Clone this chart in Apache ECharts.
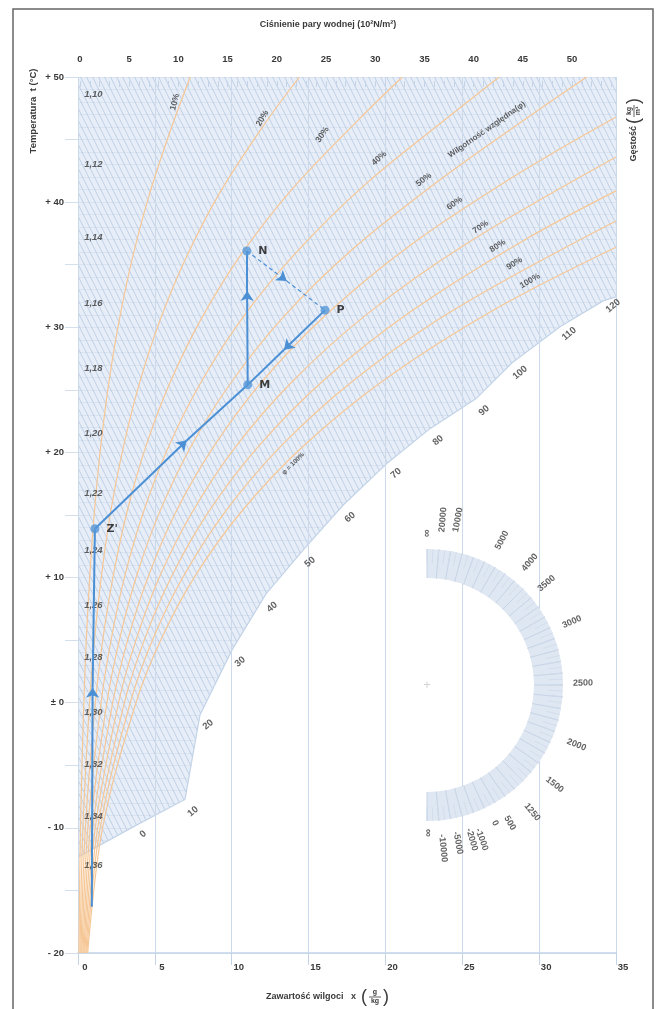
<!DOCTYPE html>
<html><head><meta charset="utf-8">
<script src="https://cdn.jsdelivr.net/npm/echarts@6/dist/echarts.min.js"></script>
<style>html,body{margin:0;padding:0;background:#fff}#c{width:656px;height:1009px}</style>
</head><body><div id="c"></div>
<script>
// ---------------- DATA ----------------
const moistureTicks = [0, 5, 10, 15, 20, 25, 30, 35];          // g/kg
const pressureTicks = [0, 5, 10, 15, 20, 25, 30, 35, 40, 45, 50]; // 10^2 N/m^2
const tempTicks = [-20, -10, 0, 10, 20, 30, 40, 50];           // °C

const rhLevels = ['10%', '20%', '30%', '40%', '50%', '60%', '70%', '80%', '90%', '100%'];
const rhCurveX = [
  [0.06, 0.16, 0.38, 0.54, 0.76, 1.05, 1.44, 1.95, 2.62, 3.48, 4.57, 5.95, 7.3],
  [0.13, 0.32, 0.75, 1.07, 1.51, 2.10, 2.89, 3.92, 5.26, 6.99, 9.20, 12.0, 14.4],
  [0.19, 0.48, 1.13, 1.61, 2.27, 3.16, 4.34, 5.89, 7.92, 10.55, 13.9, 18.18, 21.1],
  [0.25, 0.64, 1.50, 2.15, 3.03, 4.22, 5.80, 7.88, 10.61, 14.14, 18.67, 24.3, 27.4],
  [0.32, 0.80, 1.88, 2.69, 3.79, 5.28, 7.27, 9.88, 13.31, 17.78, 23.51, 30.0, 33.1],
  [0.38, 0.96, 2.26, 3.23, 4.56, 6.35, 8.74, 11.9, 16.05, 21.45, 28.43, 35.0],
  [0.44, 1.12, 2.64, 3.77, 5.32, 7.42, 10.22, 13.93, 18.8, 25.17, 35.0],
  [0.51, 1.28, 3.02, 4.31, 6.09, 8.49, 11.71, 15.97, 21.58, 28.94, 35.0],
  [0.57, 1.44, 3.40, 4.86, 6.86, 9.57, 13.2, 18.02, 24.38, 35.0],
  [0.63, 1.60, 3.77, 5.40, 7.63, 10.65, 14.7, 20.09, 27.21, 35.0]
];
const rhCurveY = [
  [-20, -10, 0, 5, 10, 15, 20.05, 25.1, 30.15, 35.2, 40.3, 45.5, 50],
  [-20, -10, 0, 5, 10, 15.1, 20.1, 25.2, 30.3, 35.45, 40.7, 46.0, 50],
  [-20, -10, 0, 5, 10, 15.1, 20.2, 25.3, 30.45, 35.7, 41.0, 46.5, 50],
  [-20, -10, 0, 5, 10.05, 15.1, 20.2, 25.35, 30.6, 35.9, 41.4, 47.0, 50],
  [-20, -10, 0, 5, 10.05, 15.15, 20.3, 25.45, 30.75, 36.15, 41.75, 47.4, 50],
  [-20, -10, 0, 5, 10.05, 15.2, 20.3, 25.55, 30.9, 36.4, 42.1, 46.8],
  [-20, -10, 0, 5, 10.1, 15.2, 20.4, 25.65, 31.05, 36.6, 43.6],
  [-20, -10, 0, 5, 10.1, 15.25, 20.45, 25.75, 31.2, 36.9, 40.9],
  [-20, -10, 0, 5.05, 10.1, 15.25, 20.5, 25.85, 31.35, 38.5],
  [-20, -10, 0, 5.05, 10.15, 15.3, 20.55, 25.95, 31.5, 36.4]
];
const rhLabelX = [6.3, 12.0, 15.9, 19.6, 22.5, 24.5, 26.2, 27.3, 28.4, 29.4];
const rhLabelY = [48.0, 46.7, 45.4, 43.5, 41.8, 39.9, 38.0, 36.5, 35.1, 33.7];
const rhLabelRot = [75, 60, 55, 42, 38, 35, 33, 33, 32, 30];

const densityLabels = ['1,10', '1,12', '1,14', '1,16', '1,18', '1,20', '1,22', '1,24', '1,26', '1,28', '1,30', '1,32', '1,34', '1,36'];
const densityY = [48.6, 43.0, 37.2, 31.9, 26.7, 21.5, 16.7, 12.2, 7.8, 3.6, -0.8, -4.9, -9.1, -13.0];
const densityX = 1.0;

const enthalpyValues = [0, 10, 20, 30, 40, 50, 60, 70, 80, 90, 100, 110, 120];
const enthalpyLabelX = [4.23, 7.48, 8.46, 10.54, 12.62, 15.09, 17.7, 20.69, 23.42, 26.42, 28.76, 31.95, 34.81];
const enthalpyLabelY = [-10.5, -8.7, -1.75, 3.27, 7.65, 11.24, 14.82, 18.33, 20.96, 23.35, 26.37, 29.48, 31.71];

// lower end of the enthalpy hatching (staircase edge), right to left
const stairX = [35, 34.16, 31.36, 28.24, 25.9, 22.9, 20.17, 17.24, 14.64, 12.23, 10.02, 7.94, 6.96, 3.77, 0];
const stairY = [32.43, 32.11, 30.04, 27.17, 24.3, 21.9, 19.2, 15.78, 12.19, 8.69, 4.22, -0.96, -7.73, -9.8, -12.35];

// process
const pointNames = ["Z'", 'M', 'N', 'P'];
const pointX = [1.1, 11.04, 10.98, 16.07];
const pointY = [13.9, 25.4, 36.1, 31.37];
const startX = 0.9, startY = -16.3;
// segments: [fromIndex(-1 = start), toIndex, arrowX, arrowY, dashed]
const segments = [
  [-1, 0, 0.95, 1.2, false],
  [0, 1, 7.07, 20.96, false],
  [1, 2, 11.0, 32.9, false],
  [2, 3, 13.58, 33.7, true],
  [3, 1, 13.4, 28.2, false]
];

// edge-scale (protractor) labels
const epsLabels = ['∞', '20000', '10000', '5000', '4000', '3500', '3000', '2500', '2000', '1500', '1250', '500', '0', '-1000', '-2000', '-5000', '-10000', '∞'];
const epsAngle = [90, 84.5, 79.4, 62.6, 50, 40.4, 23.5, 0.7, -21.8, -38, -50.4, -59, -63.8, -70.5, -73.8, -78.9, -84.4, -89.6];
const epsRadius = [152, 166, 168, 163, 160, 157, 158, 156, 161, 162, 165, 161, 154, 164, 161, 161, 164, 148];

// ---------------- CHART ----------------
const FONT = '"Liberation Sans", Arial, Helvetica, sans-serif';
const INK = '#3a3a3a';
const chart = echarts.init(document.getElementById('c'));

// hatch pattern for enthalpy lines
const pc = document.createElement('canvas');
pc.width = 6; pc.height = 12;
const g = pc.getContext('2d');
g.strokeStyle = 'rgba(135,168,210,0.42)';
g.lineWidth = 1;
[-6, 0, 6].forEach(function (ox) { g.beginPath(); g.moveTo(ox, 0); g.lineTo(ox + 6, 12); g.stroke(); });
const hatchPattern = { image: pc, repeat: 'repeat' };

const X0 = 0, X1 = 35, Y0 = -20, Y1 = 50;
const hatchX = [X0, X1].concat(stairX);
const hatchY = [Y1, Y1].concat(stairY);
const maskX = stairX.concat([X0, X1]);
const maskY = stairY.concat([Y0, Y0]);

function polySeries(xs, ys, style, z, open) {
  return {
    type: 'custom', xAxisIndex: 0, yAxisIndex: 0, z: z, silent: true, clip: true,
    data: xs.map(function (x, i) { return [x, ys[i]]; }),
    renderItem: function (params, api) {
      if (params.dataIndex !== 0) return null;
      const pts = xs.map(function (x, i) { return api.coord([x, ys[i]]); });
      return { type: open ? 'polyline' : 'polygon', shape: { points: pts }, style: style };
    }
  };
}

const series = [];
series.push(polySeries(hatchX, hatchY, { fill: '#e7eef7' }, 1));
series.push(polySeries(maskX, maskY, { fill: '#ffffff' }, 3));
series.push(polySeries(hatchX, hatchY, { fill: hatchPattern }, 4));
series.push(polySeries(stairX, stairY, { fill: null, stroke: '#c2d3e8', lineWidth: 1.2 }, 4, true));

rhLevels.forEach(function (lv, k) {
  series.push({
    type: 'line', name: lv, xAxisIndex: 0, yAxisIndex: 0, z: 6, smooth: 0.35, symbol: 'none',
    lineStyle: { color: '#f6c796', width: 1.2 },
    data: rhCurveX[k].map(function (x, i) { return [x, rhCurveY[k][i]]; })
  });
});

function textScatter(data, opts, z) {
  return {
    type: 'scatter', xAxisIndex: 0, yAxisIndex: 0, z: z || 7, symbolSize: 0, silent: true,
    label: Object.assign({ show: true, position: 'inside', formatter: function (p) { return p.name; }, fontFamily: FONT, color: INK }, opts),
    data: data
  };
}
series.push(textScatter(rhLevels.map(function (lv, i) {
  return { name: lv, value: [rhLabelX[i], rhLabelY[i]], label: { rotate: rhLabelRot[i] } };
}), { fontSize: 8.5, fontWeight: 'bold' }));
series.push(textScatter([{ name: 'Wilgotność względna(φ)', value: [26.6, 45.8], label: { rotate: 35 } },
                         { name: 'φ = 100%', value: [14.0, 19.1], label: { rotate: 45, fontSize: 6.5 } }],
  { fontSize: 8, fontWeight: 'bold' }));
series.push(textScatter(densityLabels.map(function (d, i) {
  return { name: d, value: [densityX, densityY[i]] };
}), { fontSize: 9.5, fontStyle: 'italic', fontWeight: 'bold' }));
series.push(textScatter(enthalpyValues.map(function (v, i) {
  return { name: String(v), value: [enthalpyLabelX[i], enthalpyLabelY[i]], label: { rotate: 40 } };
}), { fontSize: 9.5, fontWeight: 'bold' }));

// process lines
function pt(i) { return i < 0 ? [startX, startY] : [pointX[i], pointY[i]]; }
const solidArrow = [], solidPlain = [], dashArrow = [], dashPlain = [];
segments.forEach(function (s) {
  const a = pt(s[0]), b = pt(s[1]), m = [s[2], s[3]];
  (s[4] ? dashArrow : solidArrow).push({ coords: [a, m] });
  (s[4] ? dashPlain : solidPlain).push({ coords: [m, b] });
});
const BLUE = '#4b8fd5';
function linesSeries(data, arrow, dashed) {
  return {
    type: 'lines', coordinateSystem: 'cartesian2d', xAxisIndex: 0, yAxisIndex: 0, z: 8, silent: true,
    symbol: arrow ? ['none', 'arrow'] : ['none', 'none'], symbolSize: 10,
    lineStyle: { color: BLUE, width: dashed ? 1.2 : 2, type: dashed ? [4, 3] : 'solid', opacity: 1 },
    data: data
  };
}
series.push(linesSeries(solidArrow, true, false));
series.push(linesSeries(solidPlain, false, false));
series.push(linesSeries(dashArrow, true, true));
series.push(linesSeries(dashPlain, false, true));
series.push({
  type: 'scatter', xAxisIndex: 0, yAxisIndex: 0, z: 9, symbolSize: 9, silent: true,
  itemStyle: { color: '#5597d8' },
  label: { show: true, position: 'right', distance: 7, formatter: function (p) { return p.name; },
           fontFamily: 'Arial Black, "DejaVu Sans", sans-serif', fontWeight: 'bold', fontSize: 11, color: '#111' },
  data: pointNames.map(function (n, i) { return { name: n, value: [pointX[i], pointY[i]] }; })
});

// protractor band
series.push({
  type: 'gauge', z: 6, center: [427, 685], radius: 136, startAngle: 90, endAngle: -90, min: 0, max: 180,
  splitNumber: 36, silent: true,
  axisLine: { lineStyle: { width: 29, color: [[1, '#dfe7f2']] } },
  splitLine: { distance: -29, length: 29, lineStyle: { color: '#c6d4e6', width: 1 } },
  axisTick: { distance: -29, length: 14, splitNumber: 2, lineStyle: { color: '#cfdbea', width: 0.8 } },
  axisLabel: { show: false }, pointer: { show: false }, anchor: { show: false },
  title: { show: false }, detail: { show: false }, data: [{ value: 0 }]
});
series.push({
  type: 'scatter', coordinateSystem: 'polar', z: 7, symbolSize: 0, silent: true,
  label: { show: true, position: 'inside', formatter: function (p) { return p.name; },
           fontFamily: FONT, fontSize: 9, fontWeight: 'bold', color: INK },
  data: epsLabels.map(function (t, i) {
    const a = epsAngle[i];
    return { name: t, value: [epsRadius[i], a < 0 ? a + 360 : a], label: { rotate: a, fontSize: t === '∞' ? 11 : 9 } };
  }).concat([{ name: '+', value: [0, 0], label: { rotate: 0, color: '#c8c8c8', fontSize: 13, fontWeight: 'normal' } }])
});

// ---------------- graphic texts ----------------
function fnt(size, style) { return (style || 'bold') + ' ' + size + 'px ' + FONT; }
function txt(x, y, s, font, align, valign, extra) {
  return Object.assign({ type: 'text', x: x, y: y, silent: true,
    style: { text: s, font: font, fill: INK, align: align || 'center', verticalAlign: valign || 'middle',
             textAlign: align || 'center', textVerticalAlign: valign || 'middle' } }, extra || {});
}
function frac(cx, cy, num, den, size, w, style) {
  return [
    txt(cx, cy - 1, num, fnt(size, style), 'center', 'bottom'),
    { type: 'line', silent: true, shape: { x1: cx - w / 2, y1: cy, x2: cx + w / 2, y2: cy }, style: { stroke: INK, lineWidth: 0.8 } },
    txt(cx, cy + 1, den, fnt(size, style), 'center', 'top')
  ];
}
const gfx = [];
gfx.push({ type: 'polyline', silent: true, z: 100, shape: { points: [[13, 1015], [13, 9], [653, 9], [653, 1015]] },
           style: { stroke: '#666', lineWidth: 1.5, fill: null } });
gfx.push(txt(328, 25, 'Ciśnienie pary wodnej (10²N/m²)', fnt(9)));
gfx.push({ type: 'group', x: 33, y: 111, rotation: Math.PI / 2, children: [txt(0, 0, 'Temperatura  t (°C)', fnt(9.5))] });
gfx.push({ type: 'group', x: 634, y: 117, rotation: Math.PI / 2, children: [
  txt(-9, 0, 'Gęstość', fnt(9), 'right'),
  txt(-4, 0, '(', fnt(18, 'normal')),
  ].concat(frac(6, 0, 'kg', 'm³', 7, 12)).concat([txt(16, 0, ')', fnt(18, 'normal'))]) });
// bottom axis title
gfx.push(txt(356, 997, 'Zawartość wilgoci   x', fnt(9), 'right'));
gfx.push(txt(364, 997, '(', fnt(18, 'normal')));
frac(375, 997, 'g', 'kg', 7, 12).forEach(function (e) { gfx.push(e); });
gfx.push(txt(386, 997, ')', fnt(18, 'normal')));
// enthalpy caption
gfx.push(txt(352, 634, 'Entalpia  i', fnt(11, 'italic'), 'right'));
gfx.push(txt(363, 634, '(', fnt(26, 'normal')));
frac(378, 634, 'kJ', 'kg', 9, 16, 'italic bold').forEach(function (e) { gfx.push(e); });
gfx.push(txt(393, 634, ')', fnt(26, 'normal')));
// epsilon formula
gfx.push(txt(535, 531, 'ε =', fnt(10, 'normal')));
frac(551, 531, 'Δi', 'Δx', 7, 11).forEach(function (e) { gfx.push(e); });
gfx.push(txt(563, 531, '(', fnt(22, 'normal')));
frac(579, 531, 'kJ', 'kg', 8, 14).forEach(function (e) { gfx.push(e); });
gfx.push(txt(595, 531, ')', fnt(22, 'normal')));

const axisLblStyle = { fontFamily: FONT, fontSize: 9.5, fontWeight: 'bold', color: INK };
const option = {
  animation: false,
  backgroundColor: '#ffffff',
  grid: [
    { left: 78, top: 77, width: 538, height: 876, outerBoundsMode: 'none' },
    { left: 80, top: 77, width: 531.4, height: 10, outerBoundsMode: 'none' }
  ],
  polar: { center: [427, 685], radius: 200 },
  angleAxis: { type: 'value', min: 0, max: 360, startAngle: 0, clockwise: false, show: false },
  radiusAxis: { type: 'value', min: 0, max: 200, show: false },
  xAxis: [
    { gridIndex: 0, type: 'value', min: moistureTicks[0], max: moistureTicks[moistureTicks.length - 1], interval: 5, z: 5,
      axisLine: { show: true, onZero: false, lineStyle: { color: '#c3d4e9', width: 1.5 } },
      axisTick: { show: true, length: 12, lineStyle: { color: '#c3d4e9' } },
      splitLine: { show: true, lineStyle: { color: '#ccd9ea', width: 1 } },
      axisLabel: Object.assign({ margin: 9, align: 'center', padding: [0, 0, 0, 14],
        formatter: function (v) { return moistureTicks.indexOf(v) >= 0 ? String(v) : ''; } }, axisLblStyle) },
    { gridIndex: 1, type: 'value', position: 'top', min: pressureTicks[0], max: 54, interval: 5, z: 5,
      axisLine: { show: false },
      axisTick: { show: true, length: 6, lineStyle: { color: '#c3d4e9' } },
      minorTick: { show: true, splitNumber: 5, length: 6, lineStyle: { color: '#c3d4e9' } },
      splitLine: { show: false },
      axisLabel: Object.assign({ margin: 13,
        formatter: function (v) { return pressureTicks.indexOf(v) >= 0 ? String(v) : ''; } }, axisLblStyle) }
  ],
  yAxis: [
    { gridIndex: 0, type: 'value', min: tempTicks[0], max: tempTicks[tempTicks.length - 1], interval: 5, z: 2,
      axisLine: { show: false },
      axisTick: { show: true, length: 13, lineStyle: { color: '#d3dfed' } },
      splitLine: { show: true, lineStyle: { color: '#d6e1ee', width: 0.8 } },
      minorTick: { show: false, splitNumber: 5 },
      minorSplitLine: { show: true, lineStyle: { color: '#d6e1ee', width: 0.8 } },
      axisLabel: Object.assign({ margin: 14, formatter: function (v) {
        if (tempTicks.indexOf(v) < 0) return '';
        return v > 0 ? '+ ' + v : (v === 0 ? '± 0' : '- ' + (-v));
      } }, axisLblStyle) },
    { gridIndex: 1, type: 'value', min: 0, max: 1, show: false }
  ],
  series: series,
  graphic: { elements: gfx }
};
chart.setOption(option);
</script>
</body></html>
